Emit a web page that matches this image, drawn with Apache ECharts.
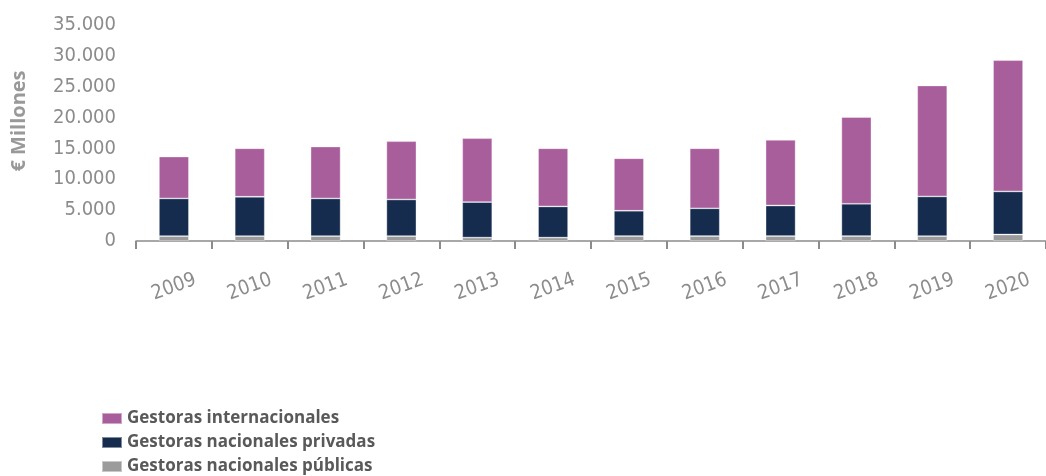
<!DOCTYPE html>
<html>
<head>
<meta charset="utf-8">
<script src="https://cdn.jsdelivr.net/npm/echarts@6/dist/echarts.min.js"></script>
<style>
  html, body { margin: 0; padding: 0; background: #ffffff; }
  #chart { width: 1046px; height: 476px; }
</style>
</head>
<body>
<div id="chart"></div>
<script>
// Años
var years = ['2009', '2010', '2011', '2012', '2013', '2014', '2015', '2016', '2017', '2018', '2019', '2020'];

// Patrimonio gestionado (€ millones) por tipo de gestora
var gestorasPublicas = [800, 800, 800, 800, 550, 550, 800, 800, 800, 800, 800, 1050];
var gestorasPrivadas = [6100, 6370, 6100, 5930, 5750, 5050, 4100, 4500, 4950, 5230, 6420, 6980];
var gestorasInternacionales = [6790, 7860, 8410, 9440, 10360, 9430, 8510, 9730, 10650, 14050, 17980, 21270];

// Marcas del eje vertical
var yTicks = [0, 5000, 10000, 15000, 20000, 25000, 30000, 35000];

var condensed = '"Liberation Sans Narrow", "DejaVu Sans Condensed", "Roboto", sans-serif';

function fmtThousands(v) {
  return String(v).replace(/\B(?=(\d{3})+(?!\d))/g, '.');
}

var chart = echarts.init(document.getElementById('chart'), null, { renderer: 'canvas' });

chart.setOption({
  animation: false,
  grid: { left: 136, right: -11, top: 25, bottom: 235, containLabel: false },
  legend: {
    orient: 'vertical',
    left: 101,
    top: 410,
    padding: 0,
    itemWidth: 20,
    itemHeight: 11,
    itemGap: 7,
    icon: 'rect',
    data: ['Gestoras internacionales', 'Gestoras nacionales privadas', 'Gestoras nacionales públicas'],
    textStyle: {
      color: '#595959',
      fontWeight: 'bold',
      fontSize: 17,
      lineHeight: 17,
      fontFamily: '"Open Sans", "Liberation Sans", sans-serif'
    }
  },
  xAxis: {
    type: 'category',
    data: years,
    axisLine: { lineStyle: { color: '#8c8c8c', width: 1.5 } },
    axisTick: { show: true, length: 8, lineStyle: { color: '#8c8c8c', width: 2 } },
    axisLabel: {
      rotate: 20,
      align: 'center',
      verticalAlign: 'middle',
      margin: 46,
      color: '#8c8c8c',
      fontSize: 20,
      fontFamily: condensed
    }
  },
  yAxis: {
    type: 'value',
    min: yTicks[0],
    max: yTicks[yTicks.length - 1],
    interval: yTicks[1] - yTicks[0],
    name: '€ Millones',
    nameLocation: 'middle',
    nameGap: 107,
    nameRotate: 90,
    nameTextStyle: {
      color: '#999999',
      fontWeight: 'bold',
      fontSize: 20,
      padding: [0, 0, 0, 24],
      fontFamily: '"Open Sans", "Liberation Sans", sans-serif'
    },
    axisLine: { show: false },
    axisTick: { show: false },
    splitLine: { show: false },
    axisLabel: {
      margin: 20,
      color: '#8c8c8c',
      fontSize: 20,
      fontFamily: condensed,
      formatter: function (v) { return fmtThousands(v); }
    }
  },
  series: [
    {
      name: 'Gestoras nacionales públicas',
      type: 'bar',
      stack: 'total',
      barWidth: 30,
      data: gestorasPublicas,
      itemStyle: { color: '#9b9b9b', borderColor: 'rgba(255,255,255,0.45)', borderWidth: 0.8 }
    },
    {
      name: 'Gestoras nacionales privadas',
      type: 'bar',
      stack: 'total',
      barWidth: 30,
      data: gestorasPrivadas,
      itemStyle: { color: '#152c4e', borderColor: 'rgba(255,255,255,0.45)', borderWidth: 0.8 }
    },
    {
      name: 'Gestoras internacionales',
      type: 'bar',
      stack: 'total',
      barWidth: 30,
      data: gestorasInternacionales,
      itemStyle: { color: '#a95e9c', borderColor: 'rgba(255,255,255,0.45)', borderWidth: 0.8 }
    }
  ]
});
</script>
</body>
</html>
